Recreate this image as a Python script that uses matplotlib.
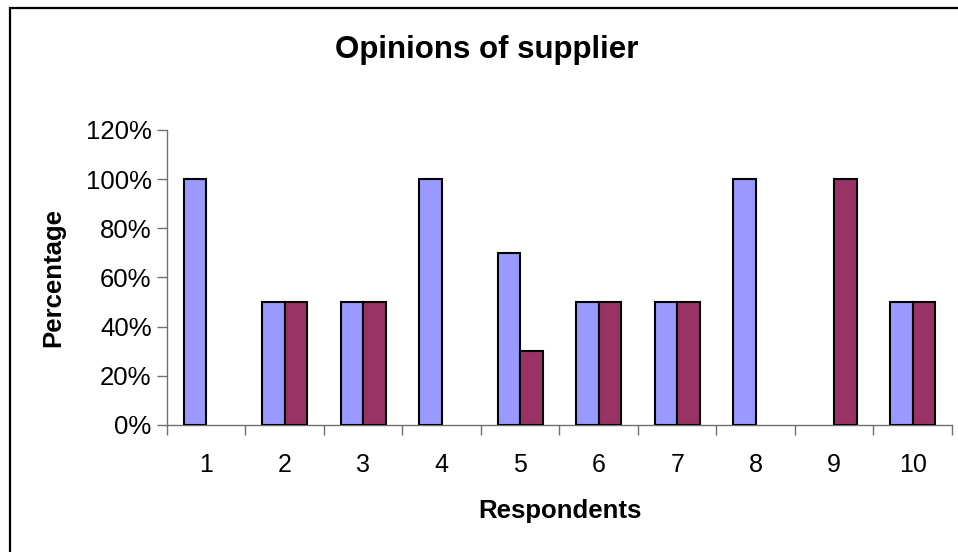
import numpy as np
import matplotlib
matplotlib.use("Agg")
import matplotlib.pyplot as plt
from matplotlib.ticker import FuncFormatter, FixedLocator
from matplotlib.patches import Rectangle

respondents = ["1", "2", "3", "4", "5", "6", "7", "8", "9", "10"]
series_a = [1.0, 0.5, 0.5, 1.0, 0.7, 0.5, 0.5, 1.0, 0.0, 0.5]
series_b = [0.0, 0.5, 0.5, 0.0, 0.3, 0.5, 0.5, 0.0, 1.0, 0.5]
y_ticks = [0.0, 0.2, 0.4, 0.6, 0.8, 1.0, 1.2]

plt.rcParams["font.family"] = ["Liberation Sans", "DejaVu Sans"]

fig = plt.figure(figsize=(9.58, 5.52), dpi=100)
ax = fig.add_axes([0.1743, 0.2301, 0.8194, 0.5344])

x = np.arange(len(respondents))
width = 1 / 3.5
edge_a = [1.5 if v > 0 else 0 for v in series_a]
edge_b = [1.5 if v > 0 else 0 for v in series_b]
ax.bar(x - width / 2, series_a, width, color="#9999FF", edgecolor="black",
       linewidth=edge_a, zorder=3)
ax.bar(x + width / 2, series_b, width, color="#993366", edgecolor="black",
       linewidth=edge_b, zorder=3)

ax.set_xlim(-0.5, len(respondents) - 0.5)
ax.set_ylim(0, 1.2)
ax.yaxis.set_major_locator(FixedLocator(y_ticks))
ax.yaxis.set_major_formatter(FuncFormatter(lambda v, p: f"{v * 100:.0f}%"))
ax.set_xticks(x)
ax.set_xticklabels(respondents)
ax.xaxis.set_minor_locator(FixedLocator(np.arange(-0.5, len(respondents), 1.0)))
ax.tick_params(axis="x", which="major", length=0, pad=20, labelsize=18)
ax.tick_params(axis="x", which="minor", length=7, width=1, color="#707070",
               direction="out")
ax.tick_params(axis="y", length=7, width=1, color="#707070", direction="out",
               labelsize=18.5, pad=4)

for side in ("top", "right"):
    ax.spines[side].set_visible(False)
for side in ("left", "bottom"):
    ax.spines[side].set_color("#707070")
    ax.spines[side].set_linewidth(1)

ax.set_xlabel("Respondents", fontsize=18.5, fontweight="bold", labelpad=16)
ax.set_ylabel("Percentage", fontsize=18.5, fontweight="bold", labelpad=15)
fig.text(0.508, 0.909, "Opinions of supplier", ha="center", va="center",
         fontsize=22.5, fontweight="bold")

# chart area frame
fig.patches.append(Rectangle((10 / 958, -0.1), 1.2, 1 - 7.5 / 552 + 0.1,
                             transform=fig.transFigure, fill=False,
                             edgecolor="black", linewidth=1.6))

fig.savefig("out.png", dpi=100)
